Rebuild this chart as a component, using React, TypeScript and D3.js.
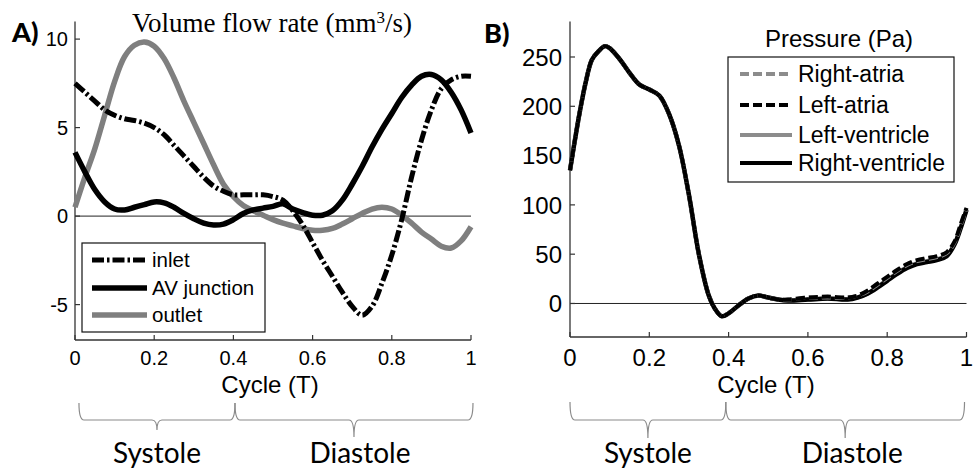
import React from 'react';
import * as d3 from 'd3';

// ---------- Panel A data: volume flow rate (mm^3/s) ----------
const flowT = [0, 0.025, 0.05, 0.075, 0.1, 0.125, 0.15, 0.175, 0.2, 0.225, 0.25, 0.275, 0.3, 0.325, 0.35, 0.375, 0.4, 0.425, 0.45, 0.475, 0.5, 0.525, 0.55, 0.575, 0.6, 0.625, 0.65, 0.675, 0.7, 0.725, 0.75, 0.775, 0.8, 0.825, 0.85, 0.875, 0.9, 0.925, 0.95, 0.975, 1];
const inletFlow = [7.5, 7.0, 6.5, 6.0, 5.7, 5.5, 5.4, 5.25, 5.0, 4.6, 4.0, 3.4, 2.8, 2.2, 1.7, 1.4, 1.2, 1.2, 1.2, 1.2, 1.1, 0.9, 0.3, -0.5, -1.5, -2.5, -3.4, -4.3, -5.1, -5.6, -5.1, -3.8, -2.2, -0.2, 2.2, 4.3, 6.0, 7.2, 7.7, 7.9, 7.9];
const avJunctionFlow = [3.6, 2.5, 1.5, 0.8, 0.4, 0.35, 0.5, 0.65, 0.8, 0.75, 0.5, 0.15, -0.15, -0.4, -0.5, -0.45, -0.2, 0.15, 0.35, 0.45, 0.55, 0.7, 0.4, 0.2, 0.05, 0.05, 0.3, 0.9, 1.8, 2.8, 3.9, 4.9, 5.8, 6.7, 7.4, 7.9, 8.0, 7.7, 7.0, 6.0, 4.7];
const outletFlow = [0.5, 2.2, 3.8, 5.7, 7.6, 9.0, 9.65, 9.83, 9.6, 8.9, 7.8, 6.5, 5.3, 4.1, 2.9, 1.8, 1.1, 0.6, 0.3, 0.05, -0.2, -0.4, -0.55, -0.7, -0.8, -0.8, -0.7, -0.45, -0.15, 0.15, 0.4, 0.5, 0.4, 0.05, -0.4, -0.9, -1.3, -1.7, -1.8, -1.4, -0.6];
const flowLegend = ['inlet', 'AV junction', 'outlet'];
const flowYTicks = [-5, 0, 5, 10];
const xTicks = [0, 0.2, 0.4, 0.6, 0.8, 1];

// ---------- Panel B data: pressure (Pa) ----------
const pressureT = [0, 0.01, 0.025, 0.04, 0.055, 0.07, 0.088, 0.1, 0.125, 0.15, 0.175, 0.2, 0.225, 0.25, 0.275, 0.3, 0.325, 0.35, 0.365, 0.383, 0.4, 0.425, 0.45, 0.475, 0.5, 0.525, 0.55, 0.6, 0.65, 0.7, 0.725, 0.75, 0.775, 0.8, 0.825, 0.85, 0.875, 0.9, 0.925, 0.95, 0.97, 0.985, 1];
const rightVentricleP = [135, 160, 195, 225, 247, 255, 261, 259, 248, 234, 222, 217, 211, 192, 160, 110, 50, 8, -5, -13, -10, -2, 5, 8, 6, 4, 3, 4, 5, 4, 6, 10, 16, 23, 30, 36, 40, 42, 44, 48, 60, 76, 95];
const leftVentricleP = [135, 160, 195, 225, 247, 255, 261, 259, 248, 234, 222, 217, 211, 192, 160, 110, 50, 8, -5, -13, -10, -2, 5, 8, 6, 4, 3, 4, 5, 4, 6, 10, 17, 24, 31, 37, 41, 43, 45, 49, 61, 77, 95];
const leftAtriaP = [135, 160, 195, 225, 247, 255, 261, 259, 248, 234, 222, 217, 211, 192, 160, 110, 50, 8, -5, -13, -10, -2, 5, 8, 6, 4, 4, 6, 7, 6, 8, 13, 20, 27, 34, 40, 44, 46, 48, 52, 63, 80, 97];
const rightAtriaP = [135, 160, 195, 225, 247, 255, 261, 259, 248, 234, 222, 217, 211, 192, 160, 110, 50, 8, -5, -13, -10, -2, 5, 8, 6, 4, 4, 6, 6, 6, 8, 12, 19, 26, 33, 39, 43, 45, 47, 51, 62, 79, 96];
const pressureLegend = ['Right-atria', 'Left-atria', 'Left-ventricle', 'Right-ventricle'];
const pressureYTicks = [0, 50, 100, 150, 200, 250];

// cardiac phases
const phaseNames = ['Systole', 'Diastole'];
const phaseBoundsA = [0.01, 0.404, 1.005];
const phaseBoundsB = [0.0, 0.393, 0.995];

const SANS = '"Liberation Sans", Arial, sans-serif';
const SERIF = '"Liberation Serif", "Times New Roman", serif';
const CAL = 'Lato, "Open Sans", sans-serif';
const GRAY = '#7f7f7f';

function Brace({ x1, x2, yTop, yMid, yTip }: { x1: number; x2: number; yTop: number; yMid: number; yTip: number }) {
  const xm = (x1 + x2) / 2;
  const r = 5;
  const d = `M${x1},${yTop} Q${x1},${yMid} ${x1 + r},${yMid} L${xm - r},${yMid} Q${xm},${yMid} ${xm},${yTip} Q${xm},${yMid} ${xm + r},${yMid} L${x2 - r},${yMid} Q${x2},${yMid} ${x2},${yTop}`;
  return <path d={d} fill="none" stroke="#8a8a8a" strokeWidth={1.2} />;
}

function PanelA() {
  const x = d3.scaleLinear().domain([0, 1]).range([75, 471]);
  const y = d3.scaleLinear().domain([-7, 11]).range([340, 21.4]);
  const line = d3.line<number>().x((_, i) => x(flowT[i])).y((v) => y(v)).curve(d3.curveCatmullRom.alpha(0.5));
  const legendY = [260, 288, 315];
  const styles = [
    { stroke: '#000', w: 5, dash: '12,3,2.5,3' },
    { stroke: '#000', w: 5.5, dash: undefined },
    { stroke: GRAY, w: 5.5, dash: undefined },
  ];
  return (
    <g>
      <line x1={x(0)} x2={x(1)} y1={y(0)} y2={y(0)} stroke="#222" strokeWidth={1} />
      <line x1={x(0)} x2={x(0)} y1={21.4} y2={340} stroke="#333" strokeWidth={1.3} />
      <line x1={x(0)} x2={x(1)} y1={340} y2={340} stroke="#333" strokeWidth={1.3} />
      {flowYTicks.map((t) => (
        <g key={'ya' + t}>
          <line x1={x(0)} x2={x(0) + 5} y1={y(t)} y2={y(t)} stroke="#333" strokeWidth={1.2} />
          <text x={68} y={y(t)} dy="0.36em" textAnchor="end" fontFamily={SANS} fontSize={20}>{t}</text>
        </g>
      ))}
      {xTicks.map((t) => (
        <g key={'xa' + t}>
          <line x1={x(t)} x2={x(t)} y1={340} y2={335} stroke="#333" strokeWidth={1.2} />
          <text x={x(t)} y={365} textAnchor="middle" fontFamily={SANS} fontSize={20}>{t}</text>
        </g>
      ))}
      <text x={270} y={393} textAnchor="middle" fontFamily={SANS} fontSize={24}>Cycle (T)</text>
      <path d={line(outletFlow) || ''} fill="none" stroke={GRAY} strokeWidth={5.5} strokeLinejoin="round" />
      <path d={line(avJunctionFlow) || ''} fill="none" stroke="#000" strokeWidth={5.5} strokeLinejoin="round" />
      <path d={line(inletFlow) || ''} fill="none" stroke="#000" strokeWidth={5} strokeDasharray="12,3,2.5,3" />
      <text x={272} y={32} textAnchor="middle" fontFamily={SERIF} fontSize={27}>
        Volume flow rate (mm<tspan dy={-9} fontSize={17}>3</tspan><tspan dy={9}>/s)</tspan>
      </text>
      <text x={12} y={42} fontFamily={CAL} fontWeight={900} fontSize={27}>A)</text>
      <rect x={82} y={243} width={183} height={89} fill="#fff" stroke="#111" strokeWidth={1.2} />
      {flowLegend.map((name, i) => (
        <g key={name}>
          <line x1={92} x2={147} y1={legendY[i]} y2={legendY[i]} stroke={styles[i].stroke} strokeWidth={styles[i].w} strokeDasharray={styles[i].dash} />
          <text x={152} y={legendY[i]} dy="0.36em" fontFamily={SANS} fontSize={20.5}>{name}</text>
        </g>
      ))}
      <Brace x1={x(phaseBoundsA[0])} x2={x(phaseBoundsA[1])} yTop={403} yMid={420} yTip={430} />
      <Brace x1={x(phaseBoundsA[1])} x2={x(phaseBoundsA[2])} yTop={403} yMid={420} yTip={437} />
      <text x={(x(phaseBoundsA[0]) + x(phaseBoundsA[1])) / 2} y={463} textAnchor="middle" fontFamily={CAL} fontSize={28}>{phaseNames[0]}</text>
      <text x={(x(phaseBoundsA[1]) + x(phaseBoundsA[2])) / 2 + 6} y={463} textAnchor="middle" fontFamily={CAL} fontSize={28}>{phaseNames[1]}</text>
    </g>
  );
}

function PanelB() {
  const x = d3.scaleLinear().domain([0, 1]).range([570, 966.5]);
  const y = d3.scaleLinear().domain([-34, 286]).range([337, 21.5]);
  const line = d3.line<number>().x((_, i) => x(pressureT[i])).y((v) => y(v)).curve(d3.curveCatmullRom.alpha(0.5));
  const legendY = [74, 105, 135, 163];
  const styles = [
    { stroke: '#8c8c8c', dash: '9,4' },
    { stroke: '#000', dash: '9,4' },
    { stroke: '#8c8c8c', dash: undefined },
    { stroke: '#000', dash: undefined },
  ];
  return (
    <g>
      <line x1={x(0)} x2={x(1)} y1={y(0)} y2={y(0)} stroke="#222" strokeWidth={1} />
      <line x1={x(0)} x2={x(0)} y1={21.5} y2={337} stroke="#333" strokeWidth={1.3} />
      <line x1={x(0)} x2={x(1)} y1={337} y2={337} stroke="#333" strokeWidth={1.3} />
      {pressureYTicks.map((t) => (
        <g key={'yb' + t}>
          <line x1={x(0)} x2={x(0) + 5} y1={y(t)} y2={y(t)} stroke="#333" strokeWidth={1.2} />
          <text x={562} y={y(t)} dy="0.36em" textAnchor="end" fontFamily={SANS} fontSize={24}>{t}</text>
        </g>
      ))}
      {xTicks.map((t) => (
        <g key={'xb' + t}>
          <line x1={x(t)} x2={x(t)} y1={337} y2={332} stroke="#333" strokeWidth={1.2} />
          <text x={x(t)} y={366} textAnchor="middle" fontFamily={SANS} fontSize={24}>{t}</text>
        </g>
      ))}
      <text x={766} y={393} textAnchor="middle" fontFamily={SANS} fontSize={24}>Cycle (T)</text>
      <path d={line(leftVentricleP) || ''} fill="none" stroke="#8c8c8c" strokeWidth={4} />
      <path d={line(rightVentricleP) || ''} fill="none" stroke="#000" strokeWidth={4.5} />
      <path d={line(rightAtriaP) || ''} fill="none" stroke="#8c8c8c" strokeWidth={4} strokeDasharray="9,4" />
      <path d={line(leftAtriaP) || ''} fill="none" stroke="#000" strokeWidth={4} strokeDasharray="9,4" />
      <text x={484} y={43} fontFamily={CAL} fontWeight={900} fontSize={27}>B)</text>
      <text x={839} y={47} textAnchor="middle" fontFamily={SANS} fontSize={24}>Pressure (Pa)</text>
      <rect x={728} y={57} width={226} height={125} fill="#fff" stroke="#111" strokeWidth={1.2} />
      {pressureLegend.map((name, i) => (
        <g key={name}>
          <line x1={740} x2={792} y1={legendY[i]} y2={legendY[i]} stroke={styles[i].stroke} strokeWidth={4} strokeDasharray={styles[i].dash} />
          <text x={798} y={legendY[i]} dy="0.36em" fontFamily={SANS} fontSize={23}>{name}</text>
        </g>
      ))}
      <Brace x1={x(phaseBoundsB[0])} x2={x(phaseBoundsB[1])} yTop={402} yMid={420} yTip={438} />
      <Brace x1={x(phaseBoundsB[1])} x2={x(phaseBoundsB[2])} yTop={402} yMid={420} yTip={438} />
      <text x={(x(phaseBoundsB[0]) + x(phaseBoundsB[1])) / 2} y={463} textAnchor="middle" fontFamily={CAL} fontSize={28}>{phaseNames[0]}</text>
      <text x={(x(phaseBoundsB[1]) + x(phaseBoundsB[2])) / 2 + 7} y={463} textAnchor="middle" fontFamily={CAL} fontSize={28}>{phaseNames[1]}</text>
    </g>
  );
}

export default function App() {
  return (
    <svg width={976} height={471} viewBox="0 0 976 471" style={{ position: 'absolute', left: 0, top: 0, background: '#fff' }}>
      <rect width={976} height={471} fill="#fff" />
      <PanelA />
      <PanelB />
    </svg>
  );
}
